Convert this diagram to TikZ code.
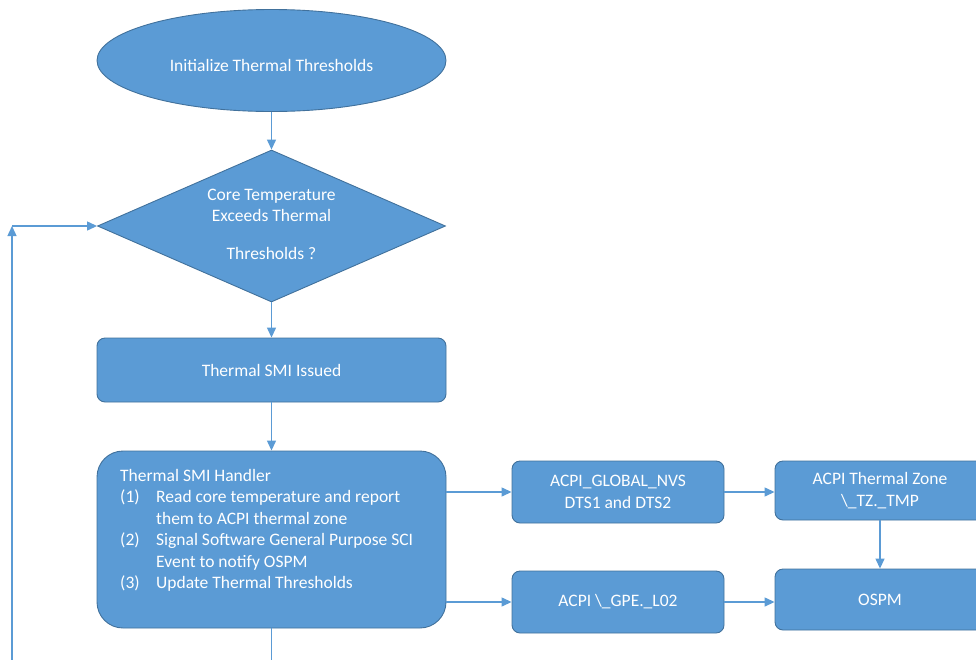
\documentclass[tikz,border=0pt]{standalone}
\usepackage{fontspec}
\setmainfont{Carlito}
\usetikzlibrary{shapes.geometric,arrows.meta}
\definecolor{boxfill}{HTML}{5B9BD5}
\definecolor{boxline}{HTML}{41719C}
\definecolor{arrcol}{HTML}{5B9BD5}
\begin{document}
\begin{tikzpicture}[x=1pt,y=-1pt,
  every node/.style={font=\fontsize{17.5}{21.5}\selectfont, text=white},
  shapebase/.style={fill=boxfill, draw=boxline, line width=0.9pt, inner sep=0pt},
  procbox/.style={shapebase, rectangle, rounded corners=8pt, align=center},
  lbl/.style={inner sep=0pt, align=center},
  arr/.style={draw=arrcol, line width=1.3pt, -{Triangle[length=10pt,width=9pt]}},
  plainline/.style={draw=arrcol, line width=1.3pt}
]
\clip (0,0) rectangle (976,659);
\node[shapebase, ellipse, minimum width=349pt, minimum height=102pt] (init) at (271.5,60.5) {};
\node[lbl] (initt) at (271.5,65) {Initialize Thermal Thresholds};
\node[shapebase, diamond, minimum width=348pt, minimum height=152pt] (dec) at (271.5,226) {};
\node[lbl] (dect) at (271.5,224) {Core Temperature\\Exceeds Thermal\\[16pt]Thresholds ?};
\node[procbox, minimum width=349pt, minimum height=64pt] (issued) at (271.5,370) {Thermal SMI Issued};
\node[shapebase, rectangle, rounded corners=26pt, minimum width=349pt, minimum height=177pt] (handler) at (271.5,539.5) {};
\node[anchor=north west, align=left, inner sep=0pt] (htext) at (120,469) {Thermal SMI Handler\\
\makebox[36pt][l]{(1)}Read core temperature and report\\
\hspace*{36pt}them to ACPI thermal zone\\
\makebox[36pt][l]{(2)}Signal Software General Purpose SCI\\
\hspace*{36pt}Event to notify OSPM\\
\makebox[36pt][l]{(3)}Update Thermal Thresholds};
\node[procbox, minimum width=212pt, minimum height=62pt] (nvs) at (618,492) {ACPI\_GLOBAL\_NVS\\DTS1 and DTS2};
\node[procbox, minimum width=210pt, minimum height=59pt] (tz) at (880,490.5) {ACPI Thermal Zone\\\textbackslash\_TZ.\_TMP};
\node[procbox, minimum width=212pt, minimum height=62pt] (gpe) at (618,602) {ACPI \textbackslash\_GPE.\_L02};
\node[procbox, minimum width=210pt, minimum height=61pt] (ospm) at (880,599.5) {OSPM};
\coordinate (hb) at (271.5,660);
\coordinate (lb) at (12,660);
\coordinate (lt) at (12,226);
\draw[arr] (init) -- (dec);
\draw[arr] (dec) -- (issued);
\draw[arr] (issued) -- (handler);
\draw[plainline] (handler) -- (hb);
\draw[arr] (lb) -- (lt);
\draw[arr] (lt) -- (dec.west);
\draw[arr] (handler.east |- nvs.west) -- (nvs.west);
\draw[arr] (nvs.east) -- (tz.west |- nvs.east);
\draw[arr] (tz.south) -- (ospm.north);
\draw[arr] (handler.east |- gpe.west) -- (gpe.west);
\draw[arr] (gpe.east) -- (ospm.west |- gpe.east);
\end{tikzpicture}
\end{document}
